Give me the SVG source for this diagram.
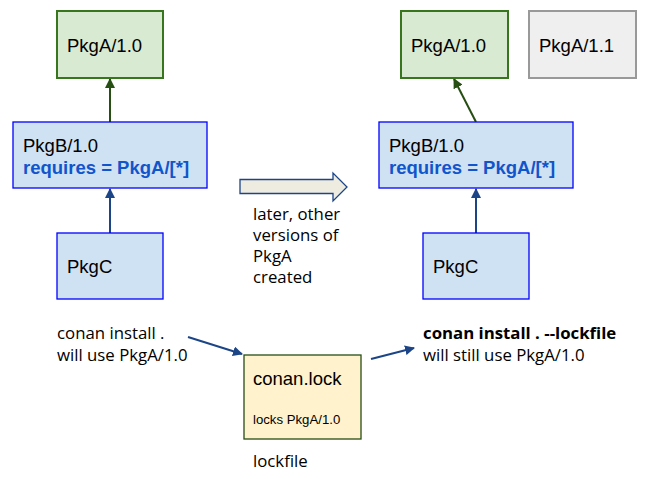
<svg xmlns="http://www.w3.org/2000/svg" width="657" height="479" viewBox="0 0 657 479">
<style>
.t{font-family:Arial,"Liberation Sans",sans-serif;font-size:18.5px;fill:#000}
.b{font-family:Arial,"Liberation Sans",sans-serif;font-size:18.5px;font-weight:bold;fill:#1155cc}
.o{font-family:"Open Sans",sans-serif;font-size:16.8px;fill:#000}
.green{fill:#d9ead3;stroke:#38761d;stroke-width:2}
.blue{fill:#cfe2f3;stroke:#0000ff;stroke-width:1.3}
.grey{fill:#efefef;stroke:#999999;stroke-width:2}
</style>
<defs>
<marker id="ag" viewBox="0 0 10 10" refX="9" refY="5" markerWidth="5" markerHeight="5" orient="auto"><path d="M0,0L10,5L0,10z" fill="#274e13"/></marker>
<marker id="ab" viewBox="0 0 10 10" refX="9" refY="5" markerWidth="5" markerHeight="5" orient="auto"><path d="M0,0L10,5L0,10z" fill="#1c4587"/></marker>
</defs>
<g id="connectors">
<line x1="110" y1="122" x2="110" y2="79" stroke="#274e13" stroke-width="2" marker-end="url(#ag)"/>
<line x1="110" y1="233" x2="110" y2="189" stroke="#1c4587" stroke-width="2" marker-end="url(#ab)"/>
<line x1="476" y1="122" x2="454" y2="79" stroke="#274e13" stroke-width="2" marker-end="url(#ag)"/>
<line x1="476" y1="233" x2="476" y2="189" stroke="#1c4587" stroke-width="2" marker-end="url(#ab)"/>
<line x1="188" y1="337" x2="242" y2="354" stroke="#1c4587" stroke-width="2" marker-end="url(#ab)"/>
<line x1="371" y1="359" x2="414" y2="348" stroke="#1c4587" stroke-width="2" marker-end="url(#ab)"/>
</g>
<g id="blockArrow"><path d="M240,179.5H333V173L347,187L333,201V193.5H240Z" fill="#eeece1" stroke="#1c4587" stroke-width="1.3"/></g>
<g id="pkgA_left"><rect x="57" y="11" width="106" height="67" class="green"/><text x="67" y="52" class="t">PkgA/1.0</text></g>
<g id="pkgB_left"><rect x="13" y="122" width="194" height="66" class="blue"/><text x="23" y="152" class="t">PkgB/1.0</text><text x="23" y="174" class="b">requires = PkgA/[*]</text></g>
<g id="pkgC_left"><rect x="57" y="233" width="106" height="66" class="blue"/><text x="67" y="273" class="t">PkgC</text></g>
<g id="pkgA_right"><rect x="401" y="11" width="107" height="67" class="green"/><text x="411" y="52" class="t">PkgA/1.0</text></g>
<g id="pkgA11"><rect x="529" y="11" width="107" height="67" class="grey"/><text x="539" y="52" class="t">PkgA/1.1</text></g>
<g id="pkgB_right"><rect x="379" y="122" width="194" height="66" class="blue"/><text x="389" y="152" class="t">PkgB/1.0</text><text x="389" y="174" class="b">requires = PkgA/[*]</text></g>
<g id="pkgC_right"><rect x="423" y="233" width="106" height="66" class="blue"/><text x="433" y="273" class="t">PkgC</text></g>
<g id="lock"><rect x="244" y="355" width="117" height="84" fill="#fff2cc" stroke="#274e13" stroke-width="1.3"/><text x="253" y="385" class="t">conan.lock</text><text x="253" y="424" class="t" style="font-size:13.2px">locks PkgA/1.0</text></g>
<g id="labels">
<text class="o"><tspan x="253" y="220">later, other</tspan><tspan x="253" y="241">versions of</tspan><tspan x="253" y="262">PkgA</tspan><tspan x="253" y="283">created</tspan></text>
<text class="o"><tspan x="57" y="339">conan install .</tspan><tspan x="57" y="361">will use PkgA/1.0</tspan></text>
<text class="o"><tspan x="423" y="339" font-weight="bold">conan install . --lockfile</tspan><tspan x="423" y="361">will still use PkgA/1.0</tspan></text>
<text x="253" y="467" class="o">lockfile</text>
</g>
</svg>
